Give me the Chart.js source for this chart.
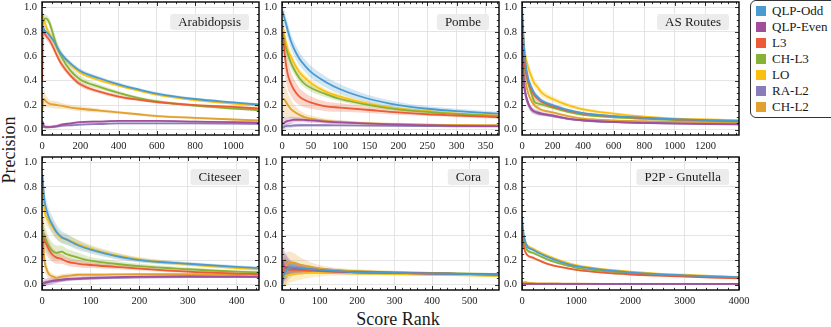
<!DOCTYPE html>
<html>
<head>
<meta charset="utf-8">
<script src="https://cdn.jsdelivr.net/npm/chart.js@4.4.0/dist/chart.umd.min.js"></script>
<style>
	body { margin: 0; background: #fff; }
	#wrap { position: relative; width: 831px; height: 327px; overflow: hidden; font-family: "Liberation Serif", serif; color: #1a1a1a; }
	canvas { position: absolute; }
	#ylabel { position: absolute; left: 9px; top: 150px; transform: translate(-50%, -50%) rotate(-90deg); font-size: 18px; white-space: nowrap; }
	#xlabel { position: absolute; left: 398px; top: 319px; transform: translate(-50%, -50%); font-size: 18px; white-space: nowrap; }
	#legend { position: absolute; left: 750px; top: 0px; width: 90px; height: 118px; border: 1.2px solid #333; border-radius: 6px; box-sizing: border-box; }
	.item { position: absolute; left: 5px; font-size: 13px; line-height: 14px; white-space: nowrap; }
	.sw { display: inline-block; width: 10px; height: 10px; margin-right: 6px; vertical-align: -1px; }
</style>
</head>
<body>
<div id="wrap">
	<div id="ylabel">Precision</div>
	<div id="xlabel">Score Rank</div>
	<div id="legend"></div>
</div>
<script>
const SERIES = ['QLP-Odd', 'QLP-Even', 'L3', 'CH-L3', 'LO', 'RA-L2', 'CH-L2'];
const COLORS = ['#4a9bd1', '#a24f9b', '#ec5b36', '#86b236', '#fbbf0f', '#8a7cba', '#e2a12f'];

const yTicks = [0, 0.2, 0.4, 0.6, 0.8, 1.0];

// Arabidopsis
const arabX = [1, 5, 10, 20, 30, 40, 60, 80, 100, 150, 200, 300, 400, 500, 600, 800, 1000, 1134];
const arabXTicks = [0, 200, 400, 600, 800, 1000];
const arabQlpOdd = [0.80, 0.84, 0.82, 0.80, 0.79, 0.77, 0.73, 0.67, 0.62, 0.54, 0.48, 0.42, 0.37, 0.33, 0.295, 0.25, 0.222, 0.205];
const arabQlpEven = [0.05, 0.06, 0.03, 0.02, 0.02, 0.02, 0.025, 0.03, 0.04, 0.05, 0.06, 0.065, 0.07, 0.07, 0.07, 0.065, 0.06, 0.057];
const arabL3 = [0.40, 0.83, 0.80, 0.77, 0.75, 0.73, 0.67, 0.60, 0.54, 0.44, 0.37, 0.31, 0.27, 0.245, 0.225, 0.20, 0.185, 0.172];
const arabChL3 = [0.85, 0.88, 0.90, 0.91, 0.90, 0.87, 0.77, 0.67, 0.60, 0.48, 0.41, 0.35, 0.30, 0.26, 0.23, 0.195, 0.172, 0.158];
const arabLo = [0.95, 0.93, 0.90, 0.85, 0.81, 0.78, 0.72, 0.66, 0.61, 0.53, 0.465, 0.405, 0.36, 0.32, 0.285, 0.24, 0.213, 0.195];
const arabRaL2 = [0.02, 0.02, 0.02, 0.02, 0.02, 0.02, 0.02, 0.025, 0.03, 0.035, 0.04, 0.045, 0.05, 0.05, 0.05, 0.05, 0.048, 0.046];
const arabChL2 = [0.15, 0.22, 0.25, 0.23, 0.22, 0.21, 0.205, 0.20, 0.195, 0.18, 0.17, 0.155, 0.14, 0.125, 0.11, 0.095, 0.082, 0.075];
const arabBandQlpOdd = [0.05, 0.04, 0.04, 0.03, 0.03, 0.03, 0.03, 0.03, 0.025, 0.02, 0.02, 0.015, 0.015, 0.012, 0.012, 0.01, 0.01, 0.01];
const arabBandQlpEven = [0.03, 0.02, 0.015, 0.015, 0.015, 0.012, 0.012, 0.012, 0.01, 0.01, 0.01, 0.01, 0.008, 0.008, 0.008, 0.008, 0.008, 0.008];
const arabBandL3 = [0.08, 0.05, 0.04, 0.03, 0.03, 0.03, 0.03, 0.025, 0.025, 0.02, 0.02, 0.015, 0.015, 0.012, 0.012, 0.01, 0.01, 0.01];
const arabBandChL3 = [0.06, 0.05, 0.04, 0.03, 0.03, 0.04, 0.05, 0.05, 0.05, 0.04, 0.03, 0.02, 0.015, 0.012, 0.012, 0.01, 0.01, 0.01];
const arabBandLo = [0.04, 0.03, 0.03, 0.03, 0.03, 0.03, 0.025, 0.025, 0.02, 0.02, 0.015, 0.015, 0.012, 0.01, 0.01, 0.01, 0.01, 0.01];
const arabBandRaL2 = [0.01, 0.01, 0.01, 0.01, 0.01, 0.01, 0.01, 0.01, 0.008, 0.008, 0.008, 0.008, 0.006, 0.006, 0.006, 0.006, 0.006, 0.006];
const arabBandChL2 = [0.05, 0.07, 0.08, 0.05, 0.04, 0.03, 0.03, 0.03, 0.025, 0.02, 0.02, 0.015, 0.012, 0.01, 0.01, 0.01, 0.008, 0.008];

// Pombe
const pombeX = [1, 3, 5, 10, 15, 20, 30, 40, 50, 75, 100, 150, 200, 250, 300, 373];
const pombeXTicks = [0, 50, 100, 150, 200, 250, 300, 350];
const pombeQlpOdd = [0.97, 0.93, 0.90, 0.81, 0.73, 0.67, 0.58, 0.52, 0.47, 0.39, 0.33, 0.25, 0.20, 0.17, 0.15, 0.13];
const pombeQlpEven = [0.05, 0.05, 0.06, 0.07, 0.075, 0.08, 0.08, 0.078, 0.075, 0.065, 0.058, 0.048, 0.04, 0.035, 0.03, 0.028];
const pombeL3 = [0.80, 0.70, 0.60, 0.45, 0.38, 0.33, 0.27, 0.24, 0.22, 0.19, 0.18, 0.16, 0.14, 0.125, 0.115, 0.10];
const pombeChL3 = [0.80, 0.75, 0.70, 0.62, 0.55, 0.50, 0.42, 0.37, 0.34, 0.29, 0.25, 0.20, 0.165, 0.145, 0.128, 0.11];
const pombeLo = [0.85, 0.80, 0.75, 0.65, 0.60, 0.55, 0.47, 0.42, 0.38, 0.31, 0.27, 0.21, 0.17, 0.15, 0.13, 0.115];
const pombeRaL2 = [0.02, 0.02, 0.025, 0.03, 0.03, 0.033, 0.035, 0.035, 0.035, 0.035, 0.034, 0.032, 0.03, 0.028, 0.026, 0.025];
const pombeChL2 = [0.25, 0.25, 0.24, 0.20, 0.17, 0.15, 0.12, 0.10, 0.09, 0.07, 0.06, 0.05, 0.045, 0.04, 0.038, 0.035];
const pombeBandQlpOdd = [0.06, 0.06, 0.06, 0.06, 0.06, 0.06, 0.055, 0.05, 0.05, 0.045, 0.04, 0.03, 0.025, 0.02, 0.02, 0.015];
const pombeBandQlpEven = [0.05, 0.05, 0.04, 0.03, 0.03, 0.025, 0.02, 0.02, 0.02, 0.015, 0.015, 0.01, 0.01, 0.01, 0.008, 0.008];
const pombeBandL3 = [0.15, 0.15, 0.15, 0.12, 0.10, 0.09, 0.07, 0.06, 0.05, 0.04, 0.035, 0.025, 0.02, 0.015, 0.015, 0.012];
const pombeBandChL3 = [0.08, 0.08, 0.07, 0.06, 0.05, 0.04, 0.035, 0.03, 0.03, 0.025, 0.02, 0.018, 0.015, 0.012, 0.01, 0.01];
const pombeBandLo = [0.08, 0.08, 0.07, 0.06, 0.05, 0.04, 0.035, 0.03, 0.03, 0.025, 0.02, 0.018, 0.015, 0.012, 0.01, 0.01];
const pombeBandRaL2 = [0.02, 0.02, 0.02, 0.02, 0.02, 0.015, 0.015, 0.012, 0.01, 0.01, 0.008, 0.008, 0.006, 0.006, 0.006, 0.006];
const pombeBandChL2 = [0.15, 0.15, 0.14, 0.10, 0.08, 0.06, 0.04, 0.03, 0.025, 0.02, 0.015, 0.012, 0.01, 0.008, 0.008, 0.008];

// AS Routes
const asX = [1, 10, 20, 40, 60, 80, 100, 130, 200, 300, 400, 600, 800, 1000, 1200, 1420];
const asXTicks = [0, 200, 400, 600, 800, 1000, 1200];
const asQlpOdd = [1.00, 0.75, 0.58, 0.42, 0.35, 0.30, 0.27, 0.235, 0.20, 0.16, 0.135, 0.11, 0.095, 0.085, 0.077, 0.07];
const asQlpEven = [0.85, 0.45, 0.32, 0.22, 0.17, 0.15, 0.14, 0.13, 0.115, 0.09, 0.076, 0.062, 0.054, 0.05, 0.046, 0.043];
const asL3 = [0.85, 0.65, 0.52, 0.40, 0.33, 0.28, 0.255, 0.225, 0.19, 0.155, 0.13, 0.108, 0.095, 0.083, 0.075, 0.068];
const asChL3 = [0.90, 0.65, 0.50, 0.38, 0.30, 0.23, 0.215, 0.205, 0.18, 0.145, 0.12, 0.10, 0.088, 0.078, 0.07, 0.065];
const asLo = [0.95, 0.75, 0.62, 0.51, 0.44, 0.38, 0.35, 0.30, 0.25, 0.20, 0.165, 0.13, 0.105, 0.09, 0.083, 0.077];
const asRaL2 = [0.80, 0.42, 0.30, 0.21, 0.165, 0.145, 0.135, 0.125, 0.11, 0.087, 0.074, 0.06, 0.053, 0.049, 0.045, 0.042];
const asChL2 = [0.80, 0.55, 0.42, 0.30, 0.24, 0.20, 0.18, 0.16, 0.14, 0.11, 0.09, 0.075, 0.068, 0.063, 0.06, 0.058];
const asBandQlpOdd = [0.05, 0.05, 0.04, 0.03, 0.03, 0.025, 0.02, 0.02, 0.015, 0.012, 0.01, 0.008, 0.008, 0.006, 0.006, 0.006];
const asBandQlpEven = [0.06, 0.05, 0.04, 0.03, 0.025, 0.02, 0.02, 0.015, 0.012, 0.01, 0.008, 0.006, 0.006, 0.005, 0.005, 0.005];
const asBandL3 = [0.06, 0.05, 0.05, 0.04, 0.035, 0.03, 0.025, 0.02, 0.015, 0.012, 0.01, 0.008, 0.008, 0.006, 0.006, 0.006];
const asBandChL3 = [0.06, 0.05, 0.05, 0.04, 0.035, 0.03, 0.025, 0.02, 0.015, 0.012, 0.01, 0.008, 0.008, 0.006, 0.006, 0.006];
const asBandLo = [0.06, 0.06, 0.06, 0.05, 0.045, 0.04, 0.035, 0.03, 0.025, 0.02, 0.015, 0.012, 0.01, 0.008, 0.008, 0.008];
const asBandRaL2 = [0.05, 0.05, 0.04, 0.03, 0.025, 0.02, 0.02, 0.015, 0.012, 0.01, 0.008, 0.006, 0.006, 0.005, 0.005, 0.005];
const asBandChL2 = [0.05, 0.05, 0.04, 0.03, 0.025, 0.02, 0.02, 0.015, 0.012, 0.01, 0.008, 0.006, 0.006, 0.005, 0.005, 0.005];

// Citeseer
const citeX = [1, 3, 5, 10, 15, 20, 30, 40, 50, 75, 100, 150, 200, 300, 400, 446];
const citeXTicks = [0, 100, 200, 300, 400];
const citeQlpOdd = [0.90, 0.78, 0.69, 0.60, 0.54, 0.50, 0.43, 0.39, 0.37, 0.32, 0.285, 0.235, 0.20, 0.17, 0.145, 0.135];
const citeQlpEven = [0.00, 0.01, 0.015, 0.02, 0.025, 0.03, 0.035, 0.04, 0.045, 0.05, 0.055, 0.06, 0.065, 0.068, 0.066, 0.065];
const citeL3 = [0.20, 0.38, 0.36, 0.32, 0.28, 0.25, 0.22, 0.21, 0.19, 0.17, 0.16, 0.145, 0.13, 0.105, 0.09, 0.085];
const citeChL3 = [0.30, 0.42, 0.40, 0.35, 0.31, 0.28, 0.26, 0.27, 0.25, 0.22, 0.195, 0.17, 0.15, 0.125, 0.105, 0.10];
const citeLo = [0.80, 0.70, 0.60, 0.55, 0.51, 0.48, 0.42, 0.38, 0.37, 0.33, 0.295, 0.24, 0.205, 0.165, 0.135, 0.125];
const citeRaL2 = [0.00, 0.005, 0.01, 0.015, 0.02, 0.025, 0.03, 0.035, 0.04, 0.045, 0.05, 0.055, 0.058, 0.06, 0.06, 0.06];
const citeChL2 = [0.55, 0.30, 0.20, 0.12, 0.08, 0.07, 0.055, 0.065, 0.07, 0.08, 0.08, 0.083, 0.085, 0.085, 0.082, 0.08];
const citeBandQlpOdd = [0.08, 0.08, 0.08, 0.08, 0.07, 0.07, 0.06, 0.05, 0.045, 0.04, 0.03, 0.025, 0.02, 0.015, 0.012, 0.012];
const citeBandQlpEven = [0.02, 0.03, 0.03, 0.03, 0.03, 0.03, 0.025, 0.02, 0.02, 0.015, 0.015, 0.012, 0.01, 0.01, 0.008, 0.008];
const citeBandL3 = [0.10, 0.10, 0.09, 0.08, 0.07, 0.06, 0.05, 0.04, 0.035, 0.03, 0.025, 0.02, 0.015, 0.012, 0.01, 0.01];
const citeBandChL3 = [0.10, 0.10, 0.09, 0.08, 0.07, 0.07, 0.06, 0.05, 0.045, 0.04, 0.03, 0.025, 0.02, 0.015, 0.012, 0.012];
const citeBandLo = [0.08, 0.08, 0.08, 0.07, 0.06, 0.06, 0.05, 0.04, 0.04, 0.035, 0.03, 0.025, 0.02, 0.015, 0.012, 0.012];
const citeBandRaL2 = [0.02, 0.02, 0.02, 0.02, 0.02, 0.02, 0.015, 0.015, 0.012, 0.01, 0.01, 0.008, 0.008, 0.006, 0.006, 0.006];
const citeBandChL2 = [0.10, 0.10, 0.08, 0.05, 0.03, 0.025, 0.02, 0.02, 0.02, 0.015, 0.015, 0.012, 0.01, 0.008, 0.008, 0.008];

// Cora
const coraX = [1, 5, 10, 15, 20, 30, 50, 75, 100, 150, 200, 300, 400, 500, 578];
const coraXTicks = [0, 100, 200, 300, 400, 500];
const coraQlpOdd = [0.00, 0.08, 0.11, 0.13, 0.14, 0.14, 0.135, 0.125, 0.12, 0.11, 0.10, 0.095, 0.09, 0.085, 0.082];
const coraQlpEven = [0.20, 0.15, 0.14, 0.14, 0.14, 0.135, 0.13, 0.125, 0.115, 0.105, 0.10, 0.095, 0.09, 0.085, 0.082];
const coraL3 = [0.10, 0.12, 0.14, 0.13, 0.12, 0.12, 0.12, 0.115, 0.11, 0.105, 0.10, 0.095, 0.09, 0.085, 0.08];
const coraChL3 = [0.15, 0.14, 0.14, 0.135, 0.135, 0.13, 0.13, 0.125, 0.12, 0.11, 0.105, 0.10, 0.095, 0.09, 0.087];
const coraLo = [0.05, 0.06, 0.07, 0.075, 0.08, 0.085, 0.09, 0.095, 0.095, 0.093, 0.09, 0.085, 0.08, 0.075, 0.07];
const coraRaL2 = [0.15, 0.14, 0.13, 0.13, 0.13, 0.13, 0.125, 0.12, 0.115, 0.105, 0.10, 0.095, 0.09, 0.085, 0.082];
const coraChL2 = [0.10, 0.13, 0.15, 0.17, 0.18, 0.18, 0.16, 0.145, 0.13, 0.115, 0.11, 0.10, 0.09, 0.08, 0.075];
const coraBandQlpOdd = [0.05, 0.06, 0.06, 0.06, 0.05, 0.04, 0.03, 0.025, 0.02, 0.015, 0.012, 0.01, 0.008, 0.008, 0.008];
const coraBandQlpEven = [0.12, 0.12, 0.10, 0.08, 0.06, 0.05, 0.04, 0.03, 0.025, 0.02, 0.015, 0.012, 0.01, 0.01, 0.01];
const coraBandL3 = [0.08, 0.08, 0.07, 0.06, 0.05, 0.04, 0.03, 0.025, 0.02, 0.015, 0.012, 0.01, 0.008, 0.008, 0.008];
const coraBandChL3 = [0.08, 0.08, 0.07, 0.06, 0.05, 0.04, 0.03, 0.025, 0.02, 0.015, 0.012, 0.01, 0.008, 0.008, 0.008];
const coraBandLo = [0.08, 0.08, 0.08, 0.08, 0.07, 0.06, 0.05, 0.04, 0.03, 0.02, 0.015, 0.012, 0.01, 0.01, 0.01];
const coraBandRaL2 = [0.15, 0.15, 0.13, 0.10, 0.08, 0.06, 0.04, 0.03, 0.025, 0.02, 0.015, 0.012, 0.01, 0.01, 0.01];
const coraBandChL2 = [0.10, 0.10, 0.10, 0.10, 0.09, 0.08, 0.06, 0.04, 0.03, 0.02, 0.015, 0.012, 0.01, 0.01, 0.01];

// P2P - Gnutella
const p2pX = [1, 20, 50, 100, 200, 300, 500, 750, 1000, 1500, 2000, 2500, 3000, 3500, 4000];
const p2pXTicks = [0, 1000, 2000, 3000, 4000];
const p2pQlpOdd = [0.55, 0.45, 0.37, 0.31, 0.285, 0.26, 0.22, 0.18, 0.15, 0.12, 0.10, 0.085, 0.075, 0.067, 0.06];
const p2pQlpEven = [0.005, 0.005, 0.005, 0.005, 0.005, 0.005, 0.005, 0.005, 0.005, 0.005, 0.005, 0.005, 0.005, 0.005, 0.005];
const p2pL3 = [0.45, 0.35, 0.28, 0.24, 0.22, 0.20, 0.165, 0.14, 0.12, 0.097, 0.082, 0.072, 0.064, 0.057, 0.051];
const p2pChL3 = [0.48, 0.40, 0.33, 0.28, 0.26, 0.24, 0.20, 0.165, 0.137, 0.11, 0.092, 0.08, 0.07, 0.062, 0.056];
const p2pLo = [0.50, 0.43, 0.36, 0.32, 0.295, 0.27, 0.23, 0.19, 0.158, 0.125, 0.105, 0.09, 0.08, 0.07, 0.063];
const p2pRaL2 = [0.004, 0.004, 0.004, 0.004, 0.004, 0.004, 0.004, 0.004, 0.004, 0.004, 0.004, 0.004, 0.004, 0.004, 0.004];
const p2pChL2 = [0.01, 0.015, 0.02, 0.015, 0.012, 0.01, 0.01, 0.008, 0.007, 0.006, 0.006, 0.005, 0.005, 0.005, 0.005];
const p2pBandQlpOdd = [0.03, 0.03, 0.02, 0.015, 0.012, 0.01, 0.01, 0.008, 0.008, 0.006, 0.006, 0.005, 0.005, 0.005, 0.005];
const p2pBandQlpEven = [0.003, 0.003, 0.003, 0.003, 0.003, 0.003, 0.003, 0.003, 0.003, 0.003, 0.003, 0.003, 0.003, 0.003, 0.003];
const p2pBandL3 = [0.03, 0.03, 0.02, 0.015, 0.012, 0.01, 0.01, 0.008, 0.008, 0.006, 0.006, 0.005, 0.005, 0.005, 0.005];
const p2pBandChL3 = [0.03, 0.03, 0.02, 0.015, 0.012, 0.01, 0.01, 0.008, 0.008, 0.006, 0.006, 0.005, 0.005, 0.005, 0.005];
const p2pBandLo = [0.03, 0.03, 0.02, 0.015, 0.012, 0.01, 0.01, 0.008, 0.008, 0.006, 0.006, 0.005, 0.005, 0.005, 0.005];
const p2pBandRaL2 = [0.003, 0.003, 0.003, 0.003, 0.003, 0.003, 0.003, 0.003, 0.003, 0.003, 0.003, 0.003, 0.003, 0.003, 0.003];
const p2pBandChL2 = [0.01, 0.01, 0.01, 0.008, 0.006, 0.005, 0.005, 0.004, 0.004, 0.003, 0.003, 0.003, 0.003, 0.003, 0.003];

// panneaux : une entree par dataset, meme ordre que SERIES
const PANELS = [
	{ title: 'Arabidopsis', x: arabX, xMax: 1134, xTicks: arabXTicks, minor: 50, col: 0, row: 0,
		vals: [arabQlpOdd, arabQlpEven, arabL3, arabChL3, arabLo, arabRaL2, arabChL2],
		bands: [arabBandQlpOdd, arabBandQlpEven, arabBandL3, arabBandChL3, arabBandLo, arabBandRaL2, arabBandChL2] },
	{ title: 'Pombe', x: pombeX, xMax: 373, xTicks: pombeXTicks, minor: 10, col: 1, row: 0,
		vals: [pombeQlpOdd, pombeQlpEven, pombeL3, pombeChL3, pombeLo, pombeRaL2, pombeChL2],
		bands: [pombeBandQlpOdd, pombeBandQlpEven, pombeBandL3, pombeBandChL3, pombeBandLo, pombeBandRaL2, pombeBandChL2] },
	{ title: 'AS Routes', x: asX, xMax: 1420, xTicks: asXTicks, minor: 50, col: 2, row: 0,
		vals: [asQlpOdd, asQlpEven, asL3, asChL3, asLo, asRaL2, asChL2],
		bands: [asBandQlpOdd, asBandQlpEven, asBandL3, asBandChL3, asBandLo, asBandRaL2, asBandChL2] },
	{ title: 'Citeseer', x: citeX, xMax: 446, xTicks: citeXTicks, minor: 20, col: 0, row: 1,
		vals: [citeQlpOdd, citeQlpEven, citeL3, citeChL3, citeLo, citeRaL2, citeChL2],
		bands: [citeBandQlpOdd, citeBandQlpEven, citeBandL3, citeBandChL3, citeBandLo, citeBandRaL2, citeBandChL2] },
	{ title: 'Cora', x: coraX, xMax: 578, xTicks: coraXTicks, minor: 20, col: 1, row: 1,
		vals: [coraQlpOdd, coraQlpEven, coraL3, coraChL3, coraLo, coraRaL2, coraChL2],
		bands: [coraBandQlpOdd, coraBandQlpEven, coraBandL3, coraBandChL3, coraBandLo, coraBandRaL2, coraBandChL2] },
	{ title: 'P2P - Gnutella', x: p2pX, xMax: 4000, xTicks: p2pXTicks, minor: 200, col: 2, row: 1,
		vals: [p2pQlpOdd, p2pQlpEven, p2pL3, p2pChL3, p2pLo, p2pRaL2, p2pChL2],
		bands: [p2pBandQlpOdd, p2pBandQlpEven, p2pBandL3, p2pBandChL3, p2pBandLo, p2pBandRaL2, p2pBandChL2] }
];

// position des zones de trace (px)
const PLOT_LEFT = [42, 282, 522];
const PLOT_TOP = [2, 157];
const PLOT_W = 217, PLOT_H = 133;
const AXIS_W = 32, AXIS_H = 20, PAD_TOP = 4, PAD_RIGHT = 14;

Chart.defaults.font.family = '"Liberation Serif", serif';
Chart.defaults.color = '#1a1a1a';

function rgba(hex, a)
{
	const n = parseInt(hex.slice(1), 16);
	return `rgba(${n >> 16},${(n >> 8) & 255},${n & 255},${a})`;
}

function buildDatasets(p)
{
	const ds = [];
	p.vals.forEach((vals, s) => {
		const band = p.bands[s];
		ds.push({ label: SERIES[s], data: p.x.map((x, i) => ({ x: x, y: vals[i] })),
			borderColor: COLORS[s], borderWidth: 1.8, pointRadius: 0, fill: false, order: 0,
			cubicInterpolationMode: 'monotone' });
		// bande basse -> remplie jusqu'a la bande haute (+1)
		ds.push({ label: '', data: p.x.map((x, i) => ({ x: x, y: vals[i] - band[i] })),
			borderColor: 'rgba(0,0,0,0)', borderWidth: 0, pointRadius: 0,
			backgroundColor: rgba(COLORS[s], 0.25), fill: '+1', order: 1,
			cubicInterpolationMode: 'monotone' });
		ds.push({ label: '', data: p.x.map((x, i) => ({ x: x, y: vals[i] + band[i] })),
			borderColor: 'rgba(0,0,0,0)', borderWidth: 0, pointRadius: 0, fill: false, order: 1,
			cubicInterpolationMode: 'monotone' });
	});
	return ds;
}

// cadre + ticks vers l'interieur + etiquette du panneau
function framePlugin(p)
{
	return {
		id: 'frame',
		afterDraw(chart) {
			const { ctx, chartArea: a, scales: { x, y } } = chart;
			ctx.save();
			ctx.strokeStyle = '#000';
			ctx.lineWidth = 0.8;
			ctx.beginPath();
			for (let v = 0; v <= p.xMax + 1e-9; v += p.minor) {
				const px = Math.round(x.getPixelForValue(v)) + 0.5;
				const len = p.xTicks.includes(v) ? 4 : 2.2;
				ctx.moveTo(px, a.bottom); ctx.lineTo(px, a.bottom - len);
				ctx.moveTo(px, a.top); ctx.lineTo(px, a.top + len);
			}
			for (let k = 0; k <= 20; k++) {
				const py = Math.round(y.getPixelForValue(k * 0.05)) + 0.5;
				const len = k % 4 === 0 ? 4 : 2.2;
				ctx.moveTo(a.left, py); ctx.lineTo(a.left + len, py);
				ctx.moveTo(a.right, py); ctx.lineTo(a.right - len, py);
			}
			ctx.stroke();
			ctx.lineWidth = 1.4;
			ctx.strokeRect(a.left, a.top, a.right - a.left, a.bottom - a.top);

			ctx.font = '13px "Liberation Serif", serif';
			const w = ctx.measureText(p.title).width + 16;
			const h = 16;
			const bx = a.right - 10 - w, by = a.top + 12;
			ctx.fillStyle = '#ececec';
			ctx.beginPath();
			ctx.roundRect(bx, by, w, h, 3);
			ctx.fill();
			ctx.fillStyle = '#1a1a1a';
			ctx.textAlign = 'center';
			ctx.textBaseline = 'middle';
			ctx.fillText(p.title, bx + w / 2, by + h / 2 + 0.5);
			ctx.restore();
		}
	};
}

function drawPanel(p)
{
	const canvas = document.createElement('canvas');
	const W = PLOT_W + AXIS_W + PAD_RIGHT, H = PLOT_H + PAD_TOP + AXIS_H;
	canvas.width = W; canvas.height = H;
	canvas.style.width = W + 'px'; canvas.style.height = H + 'px';
	canvas.style.left = (PLOT_LEFT[p.col] - AXIS_W) + 'px';
	canvas.style.top = (PLOT_TOP[p.row] - PAD_TOP) + 'px';
	document.getElementById('wrap').appendChild(canvas);

	new Chart(canvas.getContext('2d'), {
		type: 'line',
		data: { datasets: buildDatasets(p) },
		options: {
			animation: false, responsive: false, devicePixelRatio: 1, events: [],
			layout: { padding: { top: PAD_TOP, right: PAD_RIGHT, left: 0, bottom: 0 } },
			plugins: { legend: { display: false }, tooltip: { enabled: false } },
			scales: {
				x: {
					type: 'linear', min: 0, max: p.xMax,
					afterBuildTicks: s => { s.ticks = p.xTicks.map(v => ({ value: v })); },
					afterFit: s => { s.height = AXIS_H; s.paddingLeft = 0; s.paddingRight = 0; },
					grid: { color: '#dedede', lineWidth: 0.8, drawTicks: false },
					border: { display: false },
					ticks: { padding: 5, font: { size: 10.5 }, maxRotation: 0, autoSkip: false, callback: v => String(v) }
				},
				y: {
					type: 'linear', min: -0.045, max: 1.045,
					afterBuildTicks: s => { s.ticks = yTicks.map(v => ({ value: v })); },
					afterFit: s => { s.width = AXIS_W; s.paddingTop = 0; s.paddingBottom = 0; },
					grid: { color: '#dedede', lineWidth: 0.8, drawTicks: false },
					border: { display: false },
					ticks: { padding: 5, font: { size: 10.5 }, autoSkip: false, callback: v => v.toFixed(1) }
				}
			}
		},
		plugins: [framePlugin(p)]
	});
}

function buildLegend()
{
	const legend = document.getElementById('legend');
	SERIES.forEach((name, i) => {
		const item = document.createElement('div');
		item.className = 'item';
		item.style.top = (3 + i * 16) + 'px';
		item.innerHTML = `<span class="sw" style="background:${COLORS[i]}"></span>${name}`;
		legend.appendChild(item);
	});
}

PANELS.forEach(drawPanel);
buildLegend();
</script>
</body>
</html>
